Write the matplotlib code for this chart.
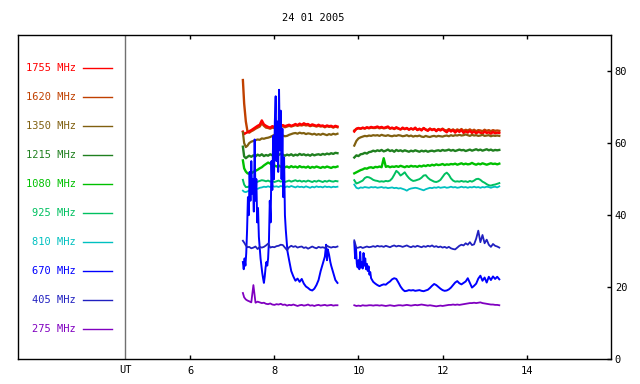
import numpy as np
import matplotlib
matplotlib.use("Agg")
import matplotlib.pyplot as plt

plt.rcParams['font.family'] = 'DejaVu Sans Mono'
plt.rcParams['font.size'] = 7.5

title = "24 01 2005"
labels = ["1755 MHz", "1620 MHz", "1350 MHz", "1215 MHz", "1080 MHz",
          "925 MHz", "810 MHz", "670 MHz", "405 MHz", "275 MHz"]
colors = ["#ff0000", "#c04000", "#806010", "#208020", "#00c000",
          "#00c060", "#00c0c0", "#0000ff", "#2020c0", "#8000c0"]
widths = [1.7, 1.7, 1.6, 1.7, 1.7, 1.4, 1.3, 1.4, 1.3, 1.3]

# sample times (UT hours), two recording intervals
t1 = [7.25, 7.28, 7.32, 7.36, 7.40, 7.45, 7.50, 7.55, 7.60, 7.65,
      7.70, 7.75, 7.80, 7.85, 7.90, 7.95, 8.00, 8.05, 8.10, 8.15,
      8.20, 8.25, 8.30, 8.35, 8.40, 8.45, 8.50, 8.55, 8.60, 8.65,
      8.70, 8.75, 8.80, 8.85, 8.90, 8.95, 9.00, 9.05, 9.10, 9.15,
      9.20, 9.25, 9.30, 9.35, 9.40, 9.45, 9.50]
t2 = [9.90, 9.95, 10.00, 10.05, 10.10, 10.15, 10.20, 10.25, 10.30, 10.35,
      10.40, 10.45, 10.50, 10.55, 10.60, 10.65, 10.70, 10.75, 10.80, 10.85,
      10.90, 10.95, 11.00, 11.05, 11.10, 11.15, 11.20, 11.25, 11.30, 11.35,
      11.40, 11.45, 11.50, 11.55, 11.60, 11.65, 11.70, 11.75, 11.80, 11.85,
      11.90, 11.95, 12.00, 12.05, 12.10, 12.15, 12.20, 12.25, 12.30, 12.35,
      12.40, 12.45, 12.50, 12.55, 12.60, 12.65, 12.70, 12.75, 12.80, 12.85,
      12.90, 12.95, 13.00, 13.05, 13.10, 13.15, 13.20, 13.25, 13.30, 13.35]
t1_670 = [7.25, 7.27, 7.29, 7.31, 7.33, 7.35, 7.37, 7.39, 7.41, 7.43,
          7.45, 7.47, 7.49, 7.51, 7.53, 7.55, 7.57, 7.59, 7.61, 7.63,
          7.65, 7.67, 7.69, 7.71, 7.73, 7.75, 7.77, 7.79, 7.81, 7.83,
          7.85, 7.87, 7.89, 7.91, 7.93, 7.95, 7.97, 7.99, 8.01, 8.03,
          8.05, 8.07, 8.09, 8.11, 8.13, 8.15, 8.17, 8.19, 8.21, 8.23,
          8.25, 8.27, 8.29, 8.31, 8.35, 8.40, 8.45, 8.50, 8.55, 8.60,
          8.65, 8.70, 8.75, 8.80, 8.85, 8.90, 8.95, 9.00, 9.05, 9.10,
          9.15, 9.20, 9.23, 9.25, 9.27, 9.30, 9.33, 9.35, 9.40, 9.45,
          9.50]
t2_670 = [9.90, 9.92, 9.94, 9.96, 9.98, 10.00, 10.02, 10.04, 10.06, 10.08,
          10.10, 10.12, 10.14, 10.16, 10.18, 10.20, 10.22, 10.24, 10.26, 10.28,
          10.30, 10.35, 10.40, 10.45, 10.50, 10.55, 10.60, 10.65, 10.70, 10.75,
          10.80, 10.85, 10.90, 10.95, 11.00, 11.05, 11.10, 11.15, 11.20, 11.25,
          11.30, 11.35, 11.40, 11.45, 11.50, 11.55, 11.60, 11.65, 11.70, 11.75,
          11.80, 11.85, 11.90, 11.95, 12.00, 12.05, 12.10, 12.15, 12.20, 12.25,
          12.30, 12.35, 12.40, 12.45, 12.50, 12.55, 12.60, 12.65, 12.70, 12.75,
          12.80, 12.85, 12.90, 12.95, 13.00, 13.05, 13.10, 13.15, 13.20, 13.25,
          13.30, 13.35]

f1755_a = [63.2, 62.5, 62.8, 63.0, 63.3, 63.6, 64.0, 64.4, 64.8, 65.1,
           66.3, 65.2, 64.8, 64.5, 64.3, 64.7, 64.5, 64.9, 64.6, 64.8,
           65.0, 64.7, 64.9, 65.1, 64.8, 65.0, 65.3, 65.0, 65.4, 65.1,
           65.5, 65.2, 65.3, 64.9, 65.2, 65.0, 64.8, 65.1, 64.8, 64.9,
           64.6, 64.9, 64.7, 64.8, 64.5, 64.8, 64.6]
f1755_b = [63.2, 64.0, 64.2, 64.0, 64.3, 64.1, 64.4, 64.2, 64.5, 64.3,
           64.4, 64.6, 64.3, 64.5, 64.2, 64.4, 64.6, 64.1, 64.3, 64.0,
           64.4, 64.1, 63.8, 64.3, 63.9, 64.2, 63.7, 64.1, 63.8, 64.3,
           63.6, 64.0, 63.5, 64.2, 63.7, 63.4, 64.0, 63.6, 63.9, 63.3,
           63.8, 63.5, 63.9, 63.4, 63.0, 63.7, 63.2, 63.6, 62.9, 63.5,
           63.1, 63.6, 62.8, 63.3, 62.9, 63.4, 62.8, 63.2, 62.7, 63.1,
           62.9, 62.6, 63.2, 62.8, 63.0, 62.6, 63.1, 62.7, 62.9, 62.8]

f1620_a = [77.5, 71.0, 66.0, 63.2, 62.9, 63.3, 63.6, 64.0, 64.3, 64.6,
           65.5, 64.8, 64.3, 64.2, 64.0, 64.3, 64.2, 64.5, 64.3, 64.5,
           64.7, 64.4, 64.6, 64.8, 64.6, 64.8, 65.0, 64.8, 65.0, 64.9,
           65.1, 64.9, 65.0, 64.7, 64.9, 64.8, 64.6, 64.8, 64.6, 64.7,
           64.4, 64.7, 64.5, 64.6, 64.3, 64.6, 64.4]
f1620_b = [63.5, 63.9, 64.1, 64.0, 64.2, 64.0, 64.3, 64.1, 64.3, 64.2,
           64.2, 64.4, 64.1, 64.3, 64.1, 64.2, 64.4, 64.0, 64.2, 63.9,
           64.2, 64.0, 63.8, 64.1, 63.9, 64.1, 63.8, 64.0, 63.8, 64.1,
           63.7, 63.9, 63.7, 64.1, 63.8, 63.6, 64.0, 63.7, 63.9, 63.5,
           63.9, 63.7, 64.0, 63.6, 63.5, 63.9, 63.5, 63.8, 63.4, 63.8,
           63.5, 63.9, 63.4, 63.7, 63.5, 63.8, 63.4, 63.7, 63.3, 63.6,
           63.5, 63.3, 63.7, 63.4, 63.6, 63.3, 63.6, 63.4, 63.5, 63.4]

f1350_a = [63.0, 60.0, 58.9, 59.3, 60.0, 60.4, 60.6, 60.8, 61.0, 60.9,
           61.3, 61.2, 61.4, 61.5, 61.7, 62.0, 62.3, 62.5, 62.3, 62.5,
           62.1, 61.9, 62.0, 62.3, 62.5, 62.7, 62.8, 62.6, 62.9, 62.7,
           62.8, 62.5, 62.7, 62.6, 62.4, 62.6, 62.3, 62.5, 62.3, 62.6,
           62.4, 62.2, 62.5, 62.3, 62.6, 62.4, 62.6]
f1350_b = [59.3, 60.6, 61.3, 61.6, 61.8, 62.0, 61.9, 62.1, 62.0, 62.2,
           62.1, 62.2, 62.0, 62.3, 62.1, 62.0, 62.2, 62.0, 61.9, 62.1,
           62.0, 62.2, 62.1, 61.9, 62.0, 62.2, 61.9, 62.1, 61.8, 62.0,
           61.9, 62.1, 61.8, 61.7, 62.0, 61.8, 61.7, 61.9, 62.0, 61.8,
           62.0, 61.9, 61.8, 62.0, 62.1, 61.9, 62.2, 62.0, 62.2, 62.1,
           62.3, 62.1, 62.2, 62.4, 62.2, 62.0, 62.3, 62.1, 62.2, 62.0,
           62.1, 62.3, 62.0, 62.1, 62.2, 61.9, 62.1, 62.0, 62.1, 62.0]

f1215_a = [59.0, 56.3, 55.8, 56.2, 56.5, 56.2, 56.6, 56.3, 56.8, 56.5,
           56.9, 56.4, 56.7, 56.5, 56.9, 56.6, 56.8, 57.1, 56.7, 57.0,
           56.8, 56.5, 56.8, 56.6, 56.9, 56.5, 56.8, 56.6, 57.0, 56.7,
           56.9, 56.6, 56.8, 56.5, 56.9, 56.6, 56.8, 56.9, 56.7, 57.0,
           56.8, 57.1, 56.9, 57.2, 57.0, 57.3, 57.2]
f1215_b = [56.0, 56.6, 56.4, 56.9, 57.0, 57.3, 57.1, 57.5, 57.6, 57.9,
           57.7, 58.0, 57.8, 58.1, 57.7, 57.9, 58.2, 57.8, 58.0, 57.6,
           58.1, 57.8, 58.0, 57.7, 58.0, 57.8, 57.6, 57.9, 57.7, 58.0,
           57.8, 57.6, 57.9, 57.7, 57.9, 57.6, 57.8, 57.9, 57.7, 57.9,
           58.0, 57.8, 58.1, 57.9, 58.0, 58.2, 57.9, 58.1, 57.8, 58.0,
           58.2, 58.0, 58.1, 57.8, 58.0, 58.2, 57.9, 58.1, 58.3, 58.0,
           58.2, 57.9, 58.1, 58.3, 58.0, 58.2, 57.9, 58.1, 58.0, 58.1]

f1080_a = [55.2, 53.0, 52.1, 51.6, 51.5, 51.6, 52.0, 52.3, 52.6, 53.0,
           53.3, 53.8, 54.2, 54.6, 54.3, 54.0, 53.8, 53.5, 53.8, 53.4,
           53.7, 53.3, 53.5, 53.2, 53.6, 53.3, 53.5, 53.2, 53.6, 53.3,
           53.4, 53.2, 53.5, 53.1, 53.4, 53.2, 53.5, 53.3, 53.1, 53.4,
           53.2, 53.5, 53.3, 53.1, 53.4, 53.3, 53.5]
f1080_b = [51.6, 51.9, 52.2, 52.5, 52.7, 53.0, 52.9, 53.2, 53.3, 53.1,
           53.4, 53.3, 53.5, 53.3, 55.8, 53.4, 53.6, 53.3, 53.5, 53.4,
           53.6, 53.4, 53.7, 53.5, 53.3, 53.6, 53.4, 53.7, 53.5, 53.6,
           53.4, 53.7, 53.5, 53.8, 53.6, 53.9, 53.7, 54.0, 53.8, 54.1,
           53.9, 54.0, 54.2, 53.9, 54.1, 54.0, 54.2, 54.1, 54.3, 54.0,
           54.2, 54.4, 54.1, 54.3, 54.1, 54.2, 54.5, 54.2, 54.0, 54.3,
           54.1, 54.4, 54.2, 54.0, 54.2, 54.4, 54.2, 54.3, 54.1, 54.3]

f925_a = [49.8, 48.5, 47.8, 47.8, 48.0, 48.5, 48.8, 49.0, 49.3, 49.5,
          49.7, 49.6, 49.4, 49.6, 49.3, 49.5, 49.2, 49.4, 49.6, 49.3,
          49.5, 49.2, 49.4, 49.6, 49.3, 49.5, 49.7, 49.4, 49.6, 49.3,
          49.5, 49.3, 49.6, 49.4, 49.2, 49.5, 49.3, 49.6, 49.4, 49.2,
          49.5, 49.3, 49.6, 49.4, 49.3, 49.5, 49.4]
f925_b = [49.7, 48.8, 49.0, 49.3, 49.6, 50.3, 50.6, 50.5, 50.2, 49.8,
          49.6, 49.5, 49.3, 49.4, 49.3, 49.5, 49.4, 49.6, 50.2, 51.2,
          52.3, 51.8, 51.0, 51.4, 51.9, 51.0, 50.3, 49.8, 49.5, 49.6,
          49.8, 50.0, 50.4, 51.0, 51.1, 50.4, 49.9, 49.6, 49.3, 49.2,
          49.4, 49.8, 50.6, 51.4, 51.8, 51.2, 50.2, 49.6, 49.3, 49.4,
          49.3, 49.5, 49.3, 49.4, 49.2, 49.5, 49.3, 49.6, 50.0, 50.1,
          49.8, 49.3, 49.0, 48.6, 48.3, 48.2, 48.4, 48.5, 48.7, 48.9]

f810_a = [46.8, 46.5, 46.4, 46.6, 46.8, 47.0, 47.2, 47.4, 47.3, 47.6,
          47.7, 47.9, 47.8, 48.0, 47.8, 48.1, 47.9, 48.0, 47.8, 48.1,
          47.9, 47.7, 48.0, 47.8, 48.1, 47.9, 47.7, 48.0, 47.8, 47.9,
          47.7, 48.0, 47.8, 47.6, 47.9, 47.7, 48.0, 47.8, 47.9, 47.7,
          48.0, 47.8, 47.9, 47.7, 47.9, 47.8, 47.9]
f810_b = [48.5, 47.6, 47.4, 47.7, 47.6, 47.8, 47.7, 47.6, 47.8, 47.7,
          47.8, 47.6, 47.7, 47.8, 47.6, 47.7, 47.5, 47.6, 47.7, 47.5,
          47.6, 47.4, 47.5, 47.3, 47.1, 46.8, 47.2, 47.4, 47.5, 47.6,
          47.5, 47.3, 47.1, 46.9, 47.2, 47.4, 47.6, 47.5, 47.7, 47.6,
          47.8, 47.6, 47.7, 47.8, 47.6, 47.7, 47.9, 47.7, 47.8, 47.6,
          47.7, 47.9, 47.7, 47.8, 47.6, 47.8, 47.7, 47.9, 47.7, 47.8,
          47.6, 47.8, 47.7, 47.9, 47.8, 47.6, 47.8, 47.9, 47.7, 48.0]

f670_a = [27.0, 25.0, 28.0, 26.0, 29.5, 36.0, 45.0, 40.0, 52.0, 44.0,
          55.0, 46.0, 50.0, 41.0, 61.0, 44.0, 50.0, 38.0, 42.0, 34.0,
          31.0, 28.0, 26.0, 24.0, 22.5, 21.2, 23.0, 25.5, 27.0, 26.0,
          28.0, 33.0, 44.0, 38.0, 55.0, 47.0, 62.0, 50.0, 66.0, 73.0,
          55.0, 66.0, 52.0, 74.8, 58.0, 69.0, 50.0, 64.0, 45.0, 56.0,
          40.0, 36.0, 33.0, 30.0, 27.5, 24.5, 23.0, 21.8, 22.4, 21.5,
          22.3, 21.0, 20.2, 19.8, 19.3, 19.1, 19.6, 20.6, 22.0, 24.5,
          26.5, 28.5, 31.8, 27.5, 30.5, 29.0, 27.0, 26.0, 24.0, 22.0,
          21.2]
f670_b = [32.5, 28.0, 31.0, 26.5, 25.5, 27.5, 25.0, 29.8, 25.5, 27.0,
          25.2, 29.5, 26.0, 28.0, 25.0, 26.5, 24.5, 25.8, 23.5, 24.2,
          22.5, 21.5, 21.0, 20.6, 20.3, 20.6, 20.8, 20.7, 21.2, 21.6,
          22.2, 22.5, 22.3, 21.3, 20.2, 19.4, 18.9, 19.0, 19.2, 19.1,
          19.2, 19.0, 19.1, 19.2, 19.0, 18.9, 19.1, 19.3, 19.8, 20.4,
          20.9, 20.6, 20.1, 19.6, 19.2, 19.0, 19.1, 19.4, 19.9, 20.6,
          21.3, 21.7, 21.1, 20.8, 21.2, 21.6, 22.5, 21.2, 19.9, 20.4,
          21.0, 22.4, 23.2, 21.8, 22.7, 21.3, 22.9, 22.0, 23.0, 22.3,
          22.9, 22.2]

f405_a = [32.9, 32.4, 31.6, 31.1, 31.2, 30.8, 31.0, 31.3, 30.6, 31.2,
          31.0, 31.2, 31.6, 32.1, 31.0, 31.2, 31.1, 31.4, 31.5, 31.8,
          31.7, 31.0, 30.3, 31.1, 31.5, 31.2, 31.4, 31.0, 31.2, 31.3,
          30.9, 31.1, 30.7, 31.0, 31.3, 31.0, 30.8, 31.2, 31.0, 31.1,
          30.9, 31.5, 31.2, 31.0, 31.2, 31.1, 31.3]
f405_b = [33.0, 30.9, 31.0, 31.2, 30.9, 31.1, 31.3, 31.1, 31.2, 31.4,
          31.2, 31.5, 31.3, 31.4, 31.2, 31.5, 31.3, 31.1, 31.4, 31.6,
          31.3, 31.5, 31.4, 31.2, 31.4, 31.6, 31.3, 31.1, 31.4, 31.2,
          31.5, 31.3, 31.1, 31.4, 31.2, 31.5, 31.3, 31.6, 31.2, 31.4,
          31.1, 31.3, 31.0, 31.2, 30.9, 31.2, 30.8, 30.6, 30.5, 31.0,
          31.5, 31.8, 31.6, 32.2, 31.8, 32.5, 31.7, 31.9, 33.5, 35.7,
          32.5, 34.5, 32.2, 33.2, 31.8, 31.2, 32.0, 31.5, 31.3, 31.0]

f275_a = [18.4, 17.2, 16.6, 16.3, 16.1, 15.8, 20.6, 15.7, 16.0, 15.8,
          15.6, 15.7, 15.4, 15.3, 15.5, 15.2, 15.1, 15.3, 15.2, 15.4,
          15.1, 15.2, 14.9, 15.1, 15.0, 15.2, 15.0, 14.8, 15.0, 15.1,
          14.9, 15.0, 15.2, 14.9, 15.0, 14.8, 15.0, 15.1, 14.9, 15.0,
          15.1, 14.9, 15.0, 15.1, 14.9, 15.0, 15.0]
f275_b = [15.0, 14.8, 14.9, 14.8, 15.0, 14.9, 14.9, 15.0, 15.0, 14.9,
          15.0, 15.0, 14.9, 15.0, 14.9, 14.8, 14.9, 15.0, 14.9, 14.8,
          14.9, 15.0, 15.0, 14.9, 15.0, 15.1, 15.0, 14.9, 15.0, 15.1,
          15.0, 15.1, 15.2, 15.1, 15.0, 14.9, 15.0, 14.9, 14.8, 14.7,
          14.8, 14.9, 14.8, 14.9, 15.0, 15.1, 15.1, 15.2, 15.1, 15.2,
          15.1, 15.2, 15.3, 15.4, 15.5, 15.6, 15.6, 15.7, 15.6, 15.7,
          15.8, 15.6, 15.5, 15.4, 15.3, 15.2, 15.2, 15.1, 15.1, 15.0]

series = [
    (t1, f1755_a, t2, f1755_b),
    (t1, f1620_a, t2, f1620_b),
    (t1, f1350_a, t2, f1350_b),
    (t1, f1215_a, t2, f1215_b),
    (t1, f1080_a, t2, f1080_b),
    (t1, f925_a, t2, f925_b),
    (t1, f810_a, t2, f810_b),
    (t1_670, f670_a, t2_670, f670_b),
    (t1, f405_a, t2, f405_b),
    (t1, f275_a, t2, f275_b),
]

fig = plt.figure(figsize=(6.4, 3.84), dpi=100)
ax = fig.add_axes([18 / 640, 24.7 / 384, 592.7 / 640, 324.3 / 384])

for i, (ta, va, tb, vb) in enumerate(series):
    z = 1.5 if i == 1 else i + 2
    ax.plot(ta, va, color=colors[i], lw=widths[i], zorder=z)
    ax.plot(tb, vb, color=colors[i], lw=widths[i], zorder=z)

# legend block on the left
for i, (lab, col) in enumerate(zip(labels, colors)):
    y = 0.899 - 0.0895 * i
    ax.text(0.098, y, lab, color=col, transform=ax.transAxes,
            ha='right', va='center')
    ax.plot([0.110, 0.159], [y, y], color=col, lw=1, transform=ax.transAxes)

ax.axvline(4.45, color='#707070', lw=1)
ax.text(4.45, -0.033, 'UT', transform=ax.get_xaxis_transform(),
        ha='center', va='center')

ax.set_xlim(1.9, 16.0)
ax.set_ylim(0, 90)
ax.set_xticks([6, 8, 10, 12, 14])
ax.set_yticks([0, 20, 40, 60, 80])
ax.yaxis.tick_right()
ax.tick_params(axis='x', direction='in', top=True, length=3, width=1, pad=5)
ax.tick_params(axis='y', direction='in', right=True, left=False,
               length=3, width=1, pad=3)
for s in ax.spines.values():
    s.set_linewidth(1)

fig.text(313 / 640, 1 - 18 / 384, title, ha='center', va='center')

fig.savefig("out.png", dpi=100)
